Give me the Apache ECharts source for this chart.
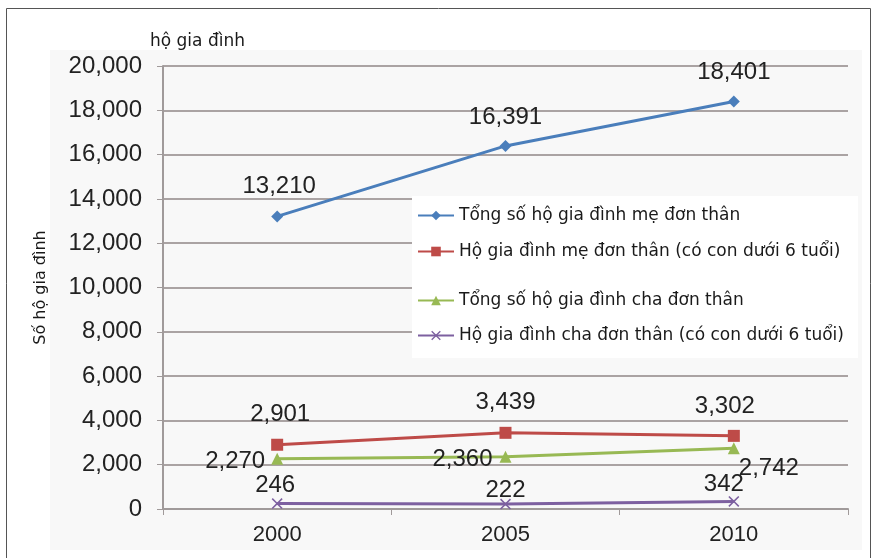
<!DOCTYPE html>
<html>
<head>
<meta charset="utf-8">
<script src="https://cdn.jsdelivr.net/npm/echarts@6/dist/echarts.min.js"></script>
<style>
  html, body { margin: 0; padding: 0; background: #fff; }
  #main { width: 871px; height: 558px; }
</style>
</head>
<body>
<div id="main"></div>
<script>
var years = ['2000', '2005', '2010'];
var seriesNames = [
  'Tổng số hộ gia đình mẹ đơn thân',
  'Hộ gia đình mẹ đơn thân (có con dưới 6 tuổi)',
  'Tổng số hộ gia đình cha đơn thân',
  'Hộ gia đình cha đơn thân (có con dưới 6 tuổi)'
];
var motherTotal = [13210, 16391, 18401];
var motherUnder6 = [2901, 3439, 3302];
var fatherTotal = [2270, 2360, 2742];
var fatherUnder6 = [246, 222, 342];

var colors = ['#4a7ebb', '#be4b48', '#98b954', '#7d60a0'];
var xPath = 'path://M0,1L1,0L5,4L9,0L10,1L6,5L10,9L9,10L5,6L1,10L0,9L4,5Z';
var numFont = 'Liberation Sans, Arial, sans-serif';
var textFont = 'DejaVu Sans, sans-serif';

// where each value label sits relative to its point (Excel placed them by hand)
var labelShift = [
  [[2, -30], [0, -29], [0, -29]],
  [[3, -30], [0, -30], [-9, -29]],
  [[-42, 3], [-43, 3], [35, 20]],
  [[-2, -18], [0, -14], [-10, -17]]
];

function fmt(p) {
  return p.value.toLocaleString('en-US');
}

function line(idx, data, symbol, size) {
  return {
    name: seriesNames[idx],
    type: 'line',
    symbol: symbol,
    symbolSize: size,
    lineStyle: { color: colors[idx], width: 3 },
    itemStyle: { color: colors[idx] },
    data: data.map(function (v, i) {
      return { value: v, label: { offset: labelShift[idx][i] } };
    }),
    label: {
      show: true,
      position: 'inside',
      formatter: fmt,
      color: '#222',
      fontSize: 24,
      fontFamily: numFont
    }
  };
}

var chart = echarts.init(document.getElementById('main'));
var legendText = { fontSize: 17, color: '#1a1a1a', fontFamily: textFont };

chart.setOption({
  animation: false,
  backgroundColor: '#fff',
  graphic: [
    { type: 'rect', left: 50, top: 50, shape: { width: 812, height: 500 },
      style: { fill: '#f8f8f8' }, z: -10 },
    { type: 'rect', left: 4, top: 6, shape: { width: 864, height: 560 },
      style: { fill: 'none', stroke: '#555', lineWidth: 1 }, z: -5 },
    { type: 'rect', left: 412, top: 196, shape: { width: 446, height: 162 },
      style: { fill: '#fff' }, z: 5 },
    { type: 'text', left: 150, top: 33,
      style: { text: 'hộ gia đình', fontSize: 17, fill: '#1a1a1a', fontFamily: textFont } }
  ],
  grid: { left: 163, right: 23, top: 66, bottom: 49 },
  legend: [
    {
      data: seriesNames.slice(0, 2),
      orient: 'vertical', left: 412, top: 202, itemGap: 19,
      itemWidth: 36, itemHeight: 12, textStyle: legendText, z: 6
    },
    {
      data: seriesNames.slice(2, 4),
      orient: 'vertical', left: 412, top: 287, itemGap: 18,
      itemWidth: 36, itemHeight: 12, textStyle: legendText, z: 6
    }
  ],
  xAxis: {
    type: 'category',
    data: years,
    boundaryGap: true,
    axisLine: { lineStyle: { color: '#a09a9a', width: 2 } },
    axisTick: { show: true, length: 6, lineStyle: { color: '#a09a9a' } },
    axisLabel: { fontSize: 22, color: '#222', fontFamily: numFont, margin: 15 }
  },
  yAxis: {
    type: 'value',
    min: 0, max: 20000, interval: 2000,
    name: 'Số hộ gia đình',
    nameLocation: 'middle',
    nameGap: 114,
    nameTextStyle: { fontSize: 16, color: '#1a1a1a', fontFamily: textFont },
    axisLine: { show: true, lineStyle: { color: '#a09a9a', width: 2 } },
    axisTick: { show: true, length: 6, lineStyle: { color: '#a09a9a' } },
    axisLabel: {
      fontSize: 24, color: '#222', fontFamily: numFont, margin: 21,
      formatter: function (v) { return v.toLocaleString('en-US'); }
    },
    splitLine: { lineStyle: { color: '#aaa3a3', width: 2 } }
  },
  series: [
    line(0, motherTotal, 'diamond', 12),
    line(1, motherUnder6, 'rect', 12),
    line(2, fatherTotal, 'triangle', 12),
    line(3, fatherUnder6, xPath, 11)
  ]
});
</script>
</body>
</html>
